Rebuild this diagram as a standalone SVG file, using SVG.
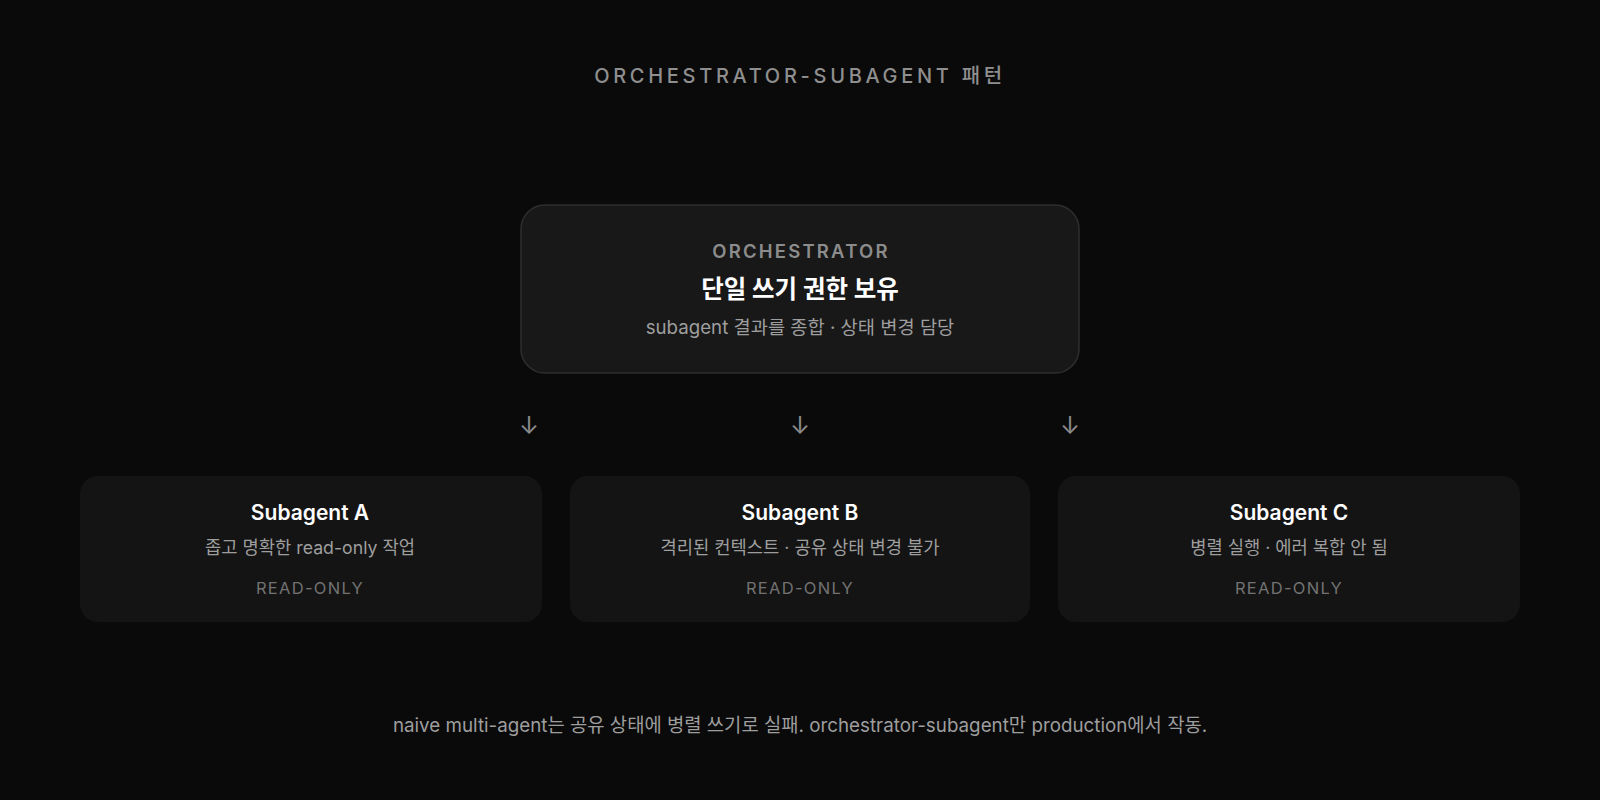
<svg xmlns="http://www.w3.org/2000/svg" width="1600" height="800" viewBox="0 0 1600 800">
<style>
text{font-family:Inter,"Noto Sans","Noto Sans CJK KR",sans-serif;text-anchor:middle}
.title{font-size:20px;fill:#8f8f8f;letter-spacing:3.7px;font-weight:500}
.olabel{font-size:18.5px;fill:#8c8c8c;font-weight:600;letter-spacing:2.2px}
.omain{font-size:24.5px;fill:#ffffff;font-weight:700}
.osub{font-size:18.7px;fill:#9e9e9e}
.stitle{font-size:21px;fill:#ffffff;font-weight:600}
.sdesc{font-size:17.7px;fill:#9e9e9e}
.stag{font-size:16.5px;fill:#727272;letter-spacing:1.3px}
.arrow{font-size:24px;fill:#8a8a8a}
.foot{font-size:18.8px;fill:#9e9e9e}
.sub{fill:#141414}
</style>
<rect width="1600" height="800" fill="#0a0a0a"/>
<text class="title" x="800" y="83">ORCHESTRATOR-SUBAGENT 패턴</text>
<g id="orchestrator">
<rect x="521" y="205" width="558" height="168" rx="24" fill="#181818" stroke="#2e2e2e" stroke-width="1.5"/>
<text class="olabel" x="801" y="258">ORCHESTRATOR</text>
<text class="omain" x="800" y="298">단일 쓰기 권한 보유</text>
<text class="osub" x="800" y="334">subagent 결과를 종합 · 상태 변경 담당</text>
</g>
<g id="connectors">
<text class="arrow" x="529" y="434">↓</text>
<text class="arrow" x="800" y="434">↓</text>
<text class="arrow" x="1070" y="434">↓</text>
</g>
<g id="subagent-a">
<rect class="sub" x="80" y="476" width="462" height="146" rx="18"/>
<text class="stitle" x="310" y="520">Subagent A</text>
<text class="sdesc" x="310" y="554">좁고 명확한 read-only 작업</text>
<text class="stag" x="310" y="594">READ-ONLY</text>
</g>
<g id="subagent-b">
<rect class="sub" x="570" y="476" width="460" height="146" rx="18"/>
<text class="stitle" x="800" y="520">Subagent B</text>
<text class="sdesc" x="800" y="554">격리된 컨텍스트 · 공유 상태 변경 불가</text>
<text class="stag" x="800" y="594">READ-ONLY</text>
</g>
<g id="subagent-c">
<rect class="sub" x="1058" y="476" width="462" height="146" rx="18"/>
<text class="stitle" x="1289" y="520">Subagent C</text>
<text class="sdesc" x="1289" y="554">병렬 실행 · 에러 복합 안 됨</text>
<text class="stag" x="1289" y="594">READ-ONLY</text>
</g>
<text class="foot" x="800" y="732">naive multi-agent는 공유 상태에 병렬 쓰기로 실패. orchestrator-subagent만 production에서 작동.</text>
</svg>
